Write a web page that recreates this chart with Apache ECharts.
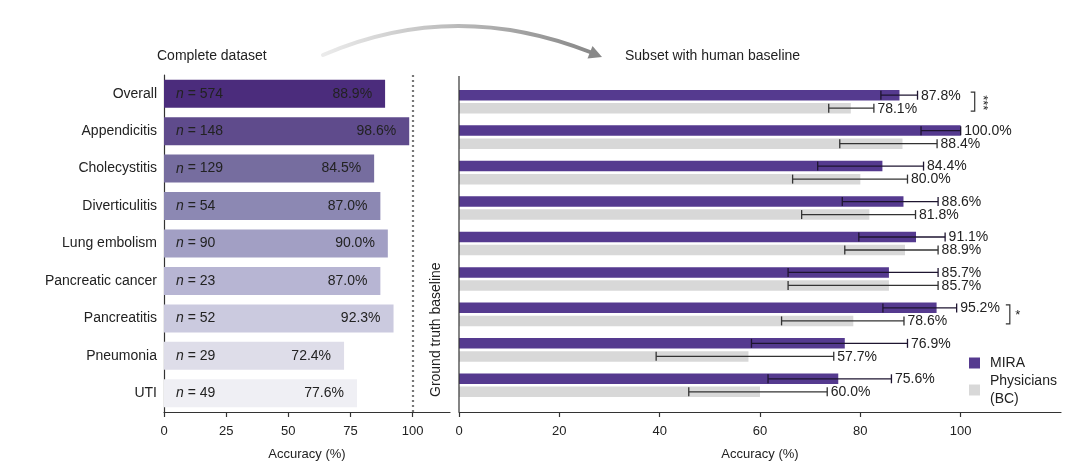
<!DOCTYPE html>
<html>
<head>
<meta charset="utf-8">
<script src="https://cdn.jsdelivr.net/npm/echarts@6/dist/echarts.min.js"></script>
<style>
  html, body { margin: 0; padding: 0; background: #fff; }
  #chart { width: 1080px; height: 468px; }
</style>
</head>
<body>
<div id="chart"></div>
<script>
// data
var categories = ['Overall', 'Appendicitis', 'Cholecystitis', 'Diverticulitis', 'Lung embolism',
  'Pancreatic cancer', 'Pancreatitis', 'Pneumonia', 'UTI'];
var caseCounts = [574, 148, 129, 54, 90, 23, 52, 29, 49];
var completeAcc = [88.9, 98.6, 84.5, 87.0, 90.0, 87.0, 92.3, 72.4, 77.6];

var miraAcc = [87.8, 100.0, 84.4, 88.6, 91.1, 85.7, 95.2, 76.9, 75.6];
var miraLow = [84.1, 92.1, 71.5, 76.4, 79.7, 65.6, 84.5, 58.3, 61.6];
var miraHigh = [91.4, 100.0, 92.6, 95.5, 96.9, 95.5, 99.2, 89.4, 86.2];

var physAcc = [78.1, 88.4, 80.0, 81.8, 88.9, 85.7, 78.6, 57.7, 60.0];
var physLow = [73.7, 75.9, 66.5, 68.3, 76.9, 65.6, 64.3, 39.3, 45.8];
var physHigh = [82.7, 95.3, 89.4, 91.0, 95.5, 95.5, 88.7, 74.7, 73.4];

// significance brackets: row index, x position (axis units), mark
var sigBrackets = [[0, 102.8, '***'], [6, 109.8, '*']];

var leftTicks = [0, 25, 50, 75, 100];
var rightTicks = [0, 20, 40, 60, 80, 100];

var FONT = '"Liberation Sans", Arial, Helvetica, sans-serif';
var TXT = '#222';
var barShades = ['#4b2c7c', '#5f4b8c', '#766d9f', '#8c88b3', '#a29fc4', '#b7b5d3', '#cbcadf', '#dedde9', '#efeff4'];
var MIRA_COLOR = '#553a8f';
var PHYS_COLOR = '#d8d8d8';
var PAIR_OFF = 6.5; // half distance between the two bars in a group (px)

var chart = echarts.init(document.getElementById('chart'), null, { renderer: 'canvas' });

function errorBars(offset, labels, lineColor) {
  return function (params, api) {
    var lo = api.coord([api.value(0), api.value(2)]);
    var hi = api.coord([api.value(1), api.value(2)]);
    var y = lo[1] + offset;
    var cap = 4.5;
    var st = { stroke: lineColor, lineWidth: 1.3 };
    return {
      type: 'group',
      children: [
        { type: 'line', shape: { x1: lo[0], y1: y, x2: hi[0], y2: y }, style: st },
        { type: 'line', shape: { x1: lo[0], y1: y - cap, x2: lo[0], y2: y + cap }, style: st },
        { type: 'line', shape: { x1: hi[0], y1: y - cap, x2: hi[0], y2: y + cap }, style: st },
        {
          type: 'text',
          style: {
            text: labels[params.dataIndex].toFixed(1) + '%',
            x: hi[0] + 3.5, y: y + 0.5,
            align: 'left', verticalAlign: 'middle',
            fontSize: 14, fontFamily: FONT, fill: TXT
          }
        }
      ]
    };
  };
}

function bracketRender(params, api) {
  var p = api.coord([api.value(1), api.value(0)]);
  var top = p[1] - PAIR_OFF - 3, bot = p[1] + PAIR_OFF + 3;
  var st = { stroke: '#333', lineWidth: 1.2, fill: null };
  var mark = sigBrackets[params.dataIndex][2];
  return {
    type: 'group',
    children: [
      { type: 'polyline', shape: { points: [[p[0] - 4, top], [p[0], top], [p[0], bot], [p[0] - 4, bot]] }, style: st },
      {
        type: 'text',
        x: p[0] + 8, y: p[1] + 1,
        rotation: mark.length > 1 ? -Math.PI / 2 : 0,
        style: {
          text: mark, x: 0, y: 0,
          align: 'center', verticalAlign: 'middle',
          fontSize: 13, fontFamily: FONT, fill: TXT
        }
      }
    ]
  };
}

var axisLineStyle = { color: '#333', width: 1.2 };

var option = {
  animation: false,
  backgroundColor: '#fff',
  textStyle: { fontFamily: FONT },
  title: [
    { text: 'Complete dataset', left: 157, top: 49, padding: 0,
      textStyle: { fontSize: 14, fontWeight: 'normal', color: TXT, fontFamily: FONT } },
    { text: 'Subset with human baseline', left: 625, top: 49, padding: 0,
      textStyle: { fontSize: 14, fontWeight: 'normal', color: TXT, fontFamily: FONT } }
  ],
  legend: {
    data: ['MIRA', 'Physicians (BC)'],
    orient: 'vertical',
    left: 969, top: 354, padding: 0,
    itemWidth: 11, itemHeight: 11, itemGap: 0,
    icon: 'rect',
    formatter: function (name) { return name.replace(' (', '\n('); },
    textStyle: { fontSize: 14, lineHeight: 18, color: TXT, fontFamily: FONT, padding: [0, 0, 0, 5] }
  },
  grid: [
    { left: 164, top: 75, width: 286, height: 337 },
    { left: 459, top: 84, width: 602, height: 319 }
  ],
  xAxis: [
    {
      gridIndex: 0, type: 'value', min: 0, max: 115, interval: 25,
      name: 'Accuracy (%)', nameLocation: 'middle', nameGap: 36,
      nameTextStyle: { fontSize: 13, color: TXT, fontFamily: FONT },
      splitLine: { show: false },
      axisLine: { show: true, lineStyle: axisLineStyle },
      axisTick: { show: true, length: 5, lineStyle: axisLineStyle, customValues: leftTicks },
      axisLabel: { fontSize: 13, color: TXT, margin: 13, fontFamily: FONT, customValues: leftTicks }
    },
    {
      gridIndex: 1, type: 'value', min: 0, max: 120, interval: 20, offset: 9,
      name: 'Accuracy (%)', nameLocation: 'middle', nameGap: 36,
      nameTextStyle: { fontSize: 13, color: TXT, fontFamily: FONT },
      splitLine: { show: false },
      axisLine: { show: true, lineStyle: axisLineStyle },
      axisTick: { show: true, length: 5, lineStyle: axisLineStyle, customValues: rightTicks },
      axisLabel: { fontSize: 13, color: TXT, margin: 13, fontFamily: FONT, customValues: rightTicks }
    }
  ],
  yAxis: [
    {
      gridIndex: 0, type: 'category', data: categories, inverse: true,
      axisLine: { show: true, lineStyle: axisLineStyle },
      axisTick: { show: false },
      axisLabel: { fontSize: 14, color: TXT, margin: 7, fontFamily: FONT }
    },
    {
      gridIndex: 1, type: 'category', data: categories, inverse: true,
      axisLine: { show: false },
      axisTick: { show: false },
      axisLabel: { show: false }
    }
  ],
  graphic: [
    // right panel y axis line (runs past the category bands)
    { type: 'line', shape: { x1: 459, y1: 76, x2: 459, y2: 412 }, style: { stroke: '#333', lineWidth: 1.2 }, z: 10 },
    {
      type: 'text', x: 436, y: 397, rotation: Math.PI / 2,
      style: { text: 'Ground truth baseline', align: 'left', verticalAlign: 'middle', fontSize: 14, fontFamily: FONT, fill: TXT }
    },
    // curved arrow between panels
    {
      type: 'bezierCurve',
      shape: { x1: 323, y1: 55, cpx1: 453, cpy1: -1.5, x2: 590, y2: 52 },
      style: {
        fill: null, lineWidth: 4, lineCap: 'round',
        stroke: new echarts.graphic.LinearGradient(0, 0, 1, 0, [
          { offset: 0, color: '#ececec' }, { offset: 1, color: '#888' }
        ])
      }
    },
    { type: 'polygon', shape: { points: [[602, 57], [592.5, 46], [587.5, 58.5]] }, style: { fill: '#888' } }
  ],
  series: [
    {
      type: 'bar', xAxisIndex: 0, yAxisIndex: 0, barWidth: 28, barGap: '-100%',
      data: completeAcc.map(function (v, i) { return { value: v, itemStyle: { color: barShades[i] } }; }),
      label: {
        show: true, position: 'insideLeft', distance: 12,
        fontSize: 14, lineHeight: 16, color: TXT, fontFamily: FONT,
        formatter: function (p) { return '{i|n} = ' + caseCounts[p.dataIndex]; },
        rich: { i: { fontStyle: 'italic', fontSize: 14, lineHeight: 16, color: TXT, fontFamily: FONT } }
      },
      markLine: {
        silent: true, symbol: 'none', label: { show: false },
        lineStyle: { type: [2, 3], color: '#777', width: 2.2 },
        data: [{ xAxis: 100 }]
      }
    },
    {
      type: 'bar', xAxisIndex: 0, yAxisIndex: 0, barWidth: 28, barGap: '-100%',
      data: completeAcc,
      itemStyle: { color: 'rgba(0,0,0,0)' },
      label: {
        show: true, position: 'insideRight', distance: 13,
        fontSize: 14, color: TXT, fontFamily: FONT,
        formatter: function (p) { return p.value.toFixed(1) + '%'; }
      }
    },
    {
      name: 'MIRA', type: 'bar', xAxisIndex: 1, yAxisIndex: 1,
      barWidth: 10.5, barGap: '25%', data: miraAcc,
      itemStyle: { color: MIRA_COLOR }
    },
    {
      name: 'Physicians (BC)', type: 'bar', xAxisIndex: 1, yAxisIndex: 1,
      barWidth: 10.5, barGap: '25%', data: physAcc,
      itemStyle: { color: PHYS_COLOR }
    },
    {
      type: 'custom', xAxisIndex: 1, yAxisIndex: 1, clip: false, z: 5,
      encode: { x: [0, 1], y: 2 },
      data: miraLow.map(function (v, i) { return [v, miraHigh[i], i]; }),
      renderItem: errorBars(-PAIR_OFF, miraAcc, '#1e1530')
    },
    {
      type: 'custom', xAxisIndex: 1, yAxisIndex: 1, clip: false, z: 5,
      encode: { x: [0, 1], y: 2 },
      data: physLow.map(function (v, i) { return [v, physHigh[i], i]; }),
      renderItem: errorBars(PAIR_OFF, physAcc, '#333')
    },
    {
      type: 'custom', xAxisIndex: 1, yAxisIndex: 1, clip: false, z: 5,
      encode: { x: 1, y: 0 },
      data: sigBrackets.map(function (b) { return [b[0], b[1]]; }),
      renderItem: bracketRender
    }
  ]
};

chart.setOption(option);
</script>
</body>
</html>
